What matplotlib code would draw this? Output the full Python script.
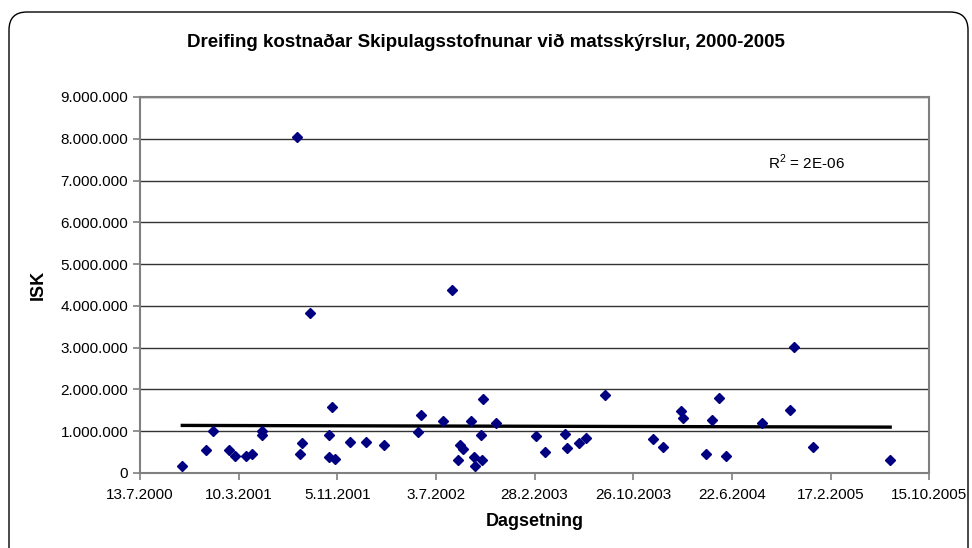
import numpy as np
import pandas as pd
import matplotlib
matplotlib.use("Agg")
import matplotlib.pyplot as plt
import matplotlib.dates as mdates
import matplotlib.patches as mpatches
import matplotlib.transforms as mtransforms
from matplotlib.ticker import FuncFormatter

plt.rcParams['font.family'] = ['Liberation Sans', 'DejaVu Sans']
plt.rcParams['mathtext.fontset'] = 'custom'
plt.rcParams['mathtext.rm'] = 'Liberation Sans'

# Data
dates = ["2000-10-24", "2000-12-21", "2001-01-06", "2001-02-15", "2001-03-02",
         "2001-03-28", "2001-04-11", "2001-05-05", "2001-05-07", "2001-07-31",
         "2001-08-06", "2001-08-12", "2001-08-30", "2001-10-16", "2001-10-17",
         "2001-10-22", "2001-10-30", "2001-12-06", "2002-01-15", "2002-02-26",
         "2002-05-21", "2002-05-27", "2002-07-19", "2002-08-11", "2002-08-26",
         "2002-08-30", "2002-09-08", "2002-09-26", "2002-10-03", "2002-10-07",
         "2002-10-21", "2002-10-23", "2002-10-26", "2002-11-26", "2003-03-03",
         "2003-03-26", "2003-05-14", "2003-05-18", "2003-06-15", "2003-07-04",
         "2003-08-18", "2003-12-12", "2004-01-07", "2004-02-18", "2004-02-25",
         "2004-04-19", "2004-05-04", "2004-05-21", "2004-06-08", "2004-09-02",
         "2004-11-11", "2004-11-19", "2005-01-06", "2005-07-12"]
costs = [175000, 540000, 1000000, 550000, 410000,
         410000, 450000, 1000000, 910000, 8050000,
         460000, 720000, 3830000, 390000, 900000,
         1570000, 335000, 740000, 730000, 660000,
         990000, 1390000, 1245000, 4380000, 300000,
         680000, 570000, 1245000, 380000, 170000,
         910000, 310000, 1760000, 1190000, 890000,
         500000, 940000, 605000, 720000, 840000,
         1860000, 810000, 620000, 1490000, 1310000,
         450000, 1270000, 1790000, 410000, 1190000,
         1510000, 3020000, 620000, 310000]

x_start = "2000-07-13"
x_end = "2005-10-15"
tick_step_days = 240
y_max = 9000000

title = "Dreifing kostnaðar Skipulagsstofnunar við matsskýrslur, 2000-2005"

x = mdates.date2num(pd.to_datetime(dates))
y = np.array(costs, dtype=float)

fig = plt.figure(figsize=(9.72, 5.48), dpi=100)
ax = fig.add_axes([0.144, 0.137, 0.812, 0.686])

# rounded chart frame
frame = mpatches.FancyBboxPatch((9, -20), 959, 556,
                                boxstyle="round,pad=0,rounding_size=18",
                                transform=mtransforms.IdentityTransform(),
                                fc="none", ec="black", lw=1.0)
fig.patches.append(frame)

ax.grid(axis='y', color='#333333', lw=1.0)
ax.set_axisbelow(True)

# linear trendline
k, b = np.polyfit(x, y, 1)
xt = np.array([x.min(), x.max()])
ax.plot(xt, k * xt + b, color='black', lw=2.4, zorder=2)

ax.plot(x, y, ls='none', marker='D', markersize=5.5, color='#000080', zorder=3)

x0 = mdates.date2num(pd.Timestamp(x_start))
x1 = mdates.date2num(pd.Timestamp(x_end))
ax.set_xlim(x0, x1)
ax.set_ylim(0, y_max)
ax.set_xticks(np.arange(x0, x1 + 1, tick_step_days))
ax.xaxis.set_major_formatter(FuncFormatter(
    lambda v, p: "{d.day}.{d.month}.{d.year}".format(d=mdates.num2date(v))))
ax.set_yticks(np.arange(0, y_max + 1, 1000000))
ax.yaxis.set_major_formatter(FuncFormatter(
    lambda v, p: "{:,.0f}".format(v).replace(",", ".")))

for s in ax.spines.values():
    s.set_color('#808080')
    s.set_linewidth(1.5)
ax.tick_params(axis='both', labelsize=11, color='#808080', length=5, width=1.2,
               direction='out')
ax.tick_params(axis='x', pad=6)

ax.set_xlabel("Dagsetning", fontsize=13, fontweight='bold', labelpad=8)
ax.set_ylabel("ISK", fontsize=13, fontweight='bold', labelpad=10)
fig.text(0.5, 0.923, title, ha='center', va='center', fontsize=13.5,
         fontweight='bold')

ax.text(0.845, 0.826, r"R$^2$ = 2E-06", transform=ax.transAxes, ha='center',
        va='center', fontsize=11)

fig.savefig("out.png", dpi=100)
